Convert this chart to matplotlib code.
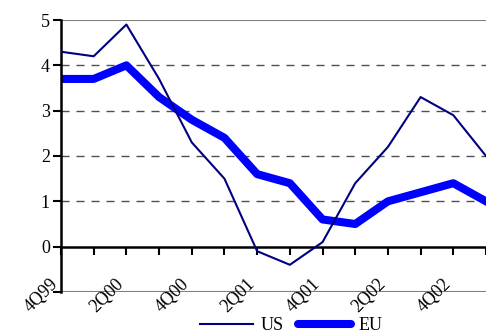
import matplotlib.pyplot as plt
from matplotlib.lines import Line2D

# quarterly values, 4Q99 .. 1Q03 (last point falls past the right edge)
quarters = ['4Q99', '1Q00', '2Q00', '3Q00', '4Q00', '1Q01', '2Q01', '3Q01',
            '4Q01', '1Q02', '2Q02', '3Q02', '4Q02', '1Q03']
us = [4.3, 4.2, 4.9, 3.7, 2.3, 1.5, -0.1, -0.4, 0.1, 1.4, 2.2, 3.3, 2.9, 2.0]
eu = [3.7, 3.7, 4.0, 3.3, 2.8, 2.4, 1.6, 1.4, 0.6, 0.5, 1.0, 1.2, 1.4, 1.0]
label_every = 2
y_ticks = [0, 1, 2, 3, 4, 5]

plt.rcParams['font.family'] = ['Liberation Serif', 'DejaVu Serif']

fig = plt.figure(figsize=(4.86, 3.34), dpi=100)
ax = fig.add_axes([61 / 486, 1 - 292 / 334, 1 - 61 / 486, (292 - 20) / 334])

x = list(range(len(quarters)))
ax.plot(x, us, color='#000080', lw=1.5, zorder=3)
ax.plot(x, eu, color='#0000FF', lw=5.8, zorder=2)

ax.set_ylim(-1, 5)
ax.set_xlim(0, 12.78)

# gridlines
for v in [1, 2, 3, 4]:
    ax.axhline(v, color='#505050', lw=1.0, ls=(0, (5.8, 5.0)), zorder=1)
ax.axhline(5, color='#808080', lw=1.5, zorder=1)
ax.axhline(-1, color='#808080', lw=1.5, zorder=1)

# axis at zero with downward ticks
ax.spines['bottom'].set_position(('data', 0))
ax.spines['bottom'].set_linewidth(1.8)
ax.spines['left'].set_linewidth(1.8)
for s in ['top', 'right']:
    ax.spines[s].set_visible(False)
ax.set_xticks(x)
ax.tick_params(axis='x', direction='out', length=6, width=1.5, labelbottom=False)
ax.set_yticks([-1] + y_ticks)
ax.set_yticklabels([''] + [str(v) for v in y_ticks])
ax.tick_params(axis='y', direction='out', length=6, width=1.5, labelsize=13, pad=2)

for i, q in enumerate(quarters):
    if i % label_every == 0 and i <= 12:
        ax.annotate(q, xy=(i, 0), xycoords='data', xytext=(-8, -21),
                    textcoords='offset points', rotation=45, ha='right', va='top',
                    rotation_mode='anchor', fontsize=13, annotation_clip=False)

handles = [Line2D([0], [0], color='#000080', lw=1.5),
           Line2D([0], [0], color='#0000FF', lw=5.8, solid_capstyle='round')]
fig.legend(handles, ['US', 'EU'], loc='center', bbox_to_anchor=(0.6, 0.025),
           ncol=2, frameon=False, fontsize=13, handlelength=2.9,
           handletextpad=0.45, columnspacing=0.8, borderpad=0)

fig.savefig('out.png', dpi=100)
